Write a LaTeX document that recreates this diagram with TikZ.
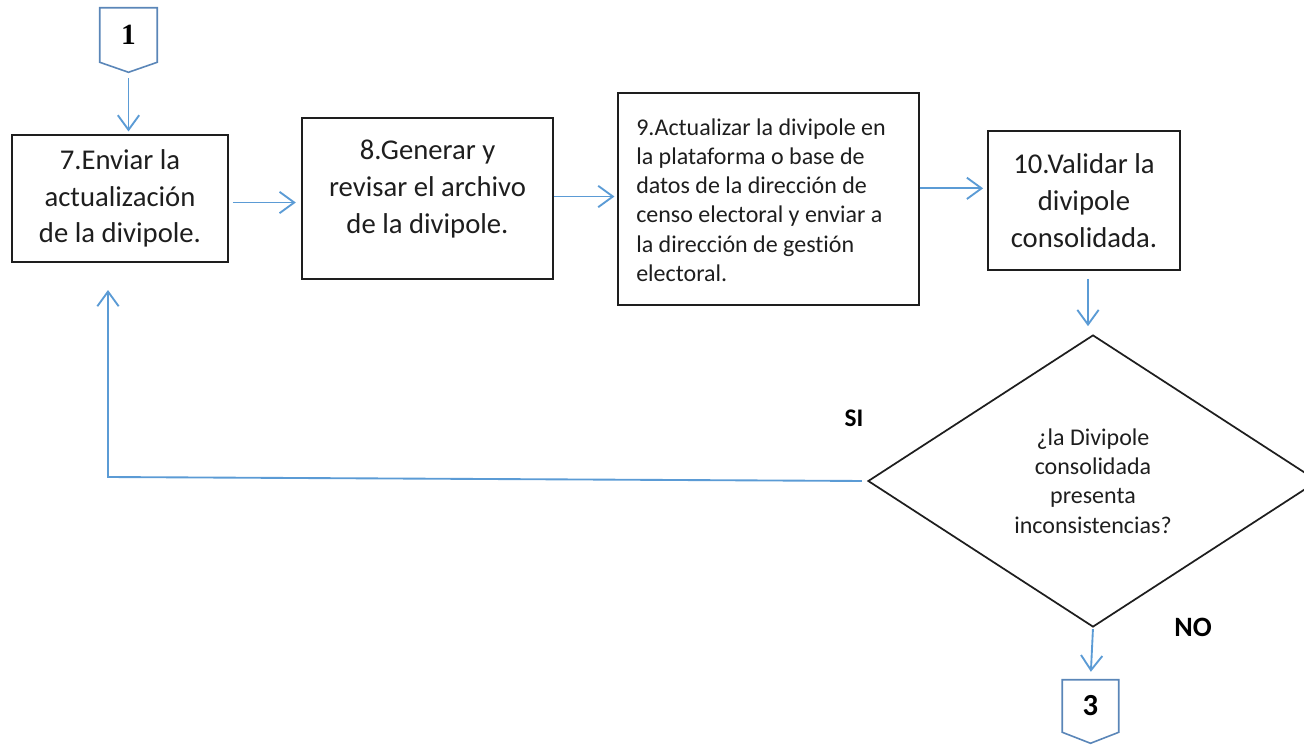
\documentclass[tikz,border=0pt]{standalone}
\usepackage{fontspec}
\setmainfont{Carlito}[Ligatures=NoCommon, RawFeature={-liga;-clig;-dlig}]
\newfontfamily\serifb{Liberation Serif}
\usetikzlibrary{arrows.meta,shapes.geometric,calc}
\definecolor{flowblue}{HTML}{5B9BD5}
\definecolor{connblue}{HTML}{5A86B8}
\definecolor{ink}{HTML}{1E1E1E}
\begin{document}
\begin{tikzpicture}[x=0.75pt,y=-0.75pt,
  box/.style={draw=ink, line width=1.3pt, inner sep=0pt, text=ink},
  flow/.style={draw=flowblue, line width=1.4pt, -{Straight Barb[length=11pt,width=16pt,line width=1.4pt]}},
  conn/.style={draw=connblue, line width=1.2pt},
  big/.style={font=\fontsize{21.5}{27.5}\selectfont, align=center, text=ink},
  mid/.style={font=\fontsize{18}{21.9}\selectfont, text=ink},
  lbl/.style={font=\bfseries\fontsize{19}{22}\selectfont, text=black}
]
\useasboundingbox (0,0) rectangle (1304,744);

% off-page connector 1
\node[inner sep=0pt, minimum width=42.75pt, minimum height=40.5pt,
      font=\serifb\bfseries\fontsize{22}{24}\selectfont] (c1) at (128.5,35) {1};
\coordinate (c1tip) at ($(c1.south)+(0,10)$);
\draw[conn] (c1.south west) -- (c1.north west) -- (c1.north east) -- (c1.south east) -- (c1tip) -- cycle;

% process boxes
\node[box, big, minimum width=162pt, minimum height=95.25pt] (b7) at (120,198.5)
  {7.Enviar la\\actualización\\de la divipole.};
\node[box, minimum width=188.25pt, minimum height=120.75pt] (b8) at (427.5,198.5) {};
\node[big] (t8) at (427.5,189) {8.Generar y\\revisar el archivo\\de la divipole.};
\node[box, minimum width=225.75pt, minimum height=159pt] (b9) at (768.5,199) {};
\node[mid, align=left, anchor=west, inner sep=0pt] (t9) at (636,200)
  {9.Actualizar la divipole en\\la plataforma o base de\\datos de la dirección de\\censo electoral y enviar a\\la dirección de gestión\\electoral.};
\node[box, big, minimum width=144pt, minimum height=104.25pt] (b10) at (1084,200.5)
  {10.Validar la\\divipole\\consolidada.};

% decision
\node[diamond, draw=ink, line width=1.3pt, inner sep=0pt,
      minimum width=337.5pt, minimum height=219pt, mid, align=center] (dia) at (1093,481)
  {¿la Divipole\\consolidada\\presenta\\inconsistencias?};

% off-page connector 3
\node[inner sep=0pt, minimum width=42pt, minimum height=39pt,
      font=\bfseries\fontsize{23}{25}\selectfont] (c3) at (1090.5,706) {3};
\coordinate (c3tip) at ($(c3.south)+(0,11)$);
\draw[conn] (c3.south west) -- (c3.north west) -- (c3.north east) -- (c3.south east) -- (c3tip) -- cycle;

% labels
\node[lbl] (si) at (854,418) {SI};
\node[lbl, font=\bfseries\fontsize{21}{24}\selectfont] (no) at (1193,627) {NO};

% connectors
\draw[flow, shorten <=4.5pt, shorten >=2pt] (c1tip) -- (c1tip |- b7.north);
\draw[flow, shorten <=3pt, shorten >=4pt] ([yshift=-3]b7.east) -- ([yshift=-3]b7.east -| b8.west);
\draw[flow, shorten >=2pt] ([yshift=1.5]b8.east) -- ([yshift=1.5]b8.east -| b9.west);
\draw[flow, shorten >=3pt] ([yshift=8]b9.east) -- ([yshift=8]b9.east -| b10.west);
\coordinate (b10out) at ($(b10.south)+(4,0)$);
\draw[flow, shorten <=6pt, shorten >=6pt] (b10out) -- (b10out |- dia.north);
\coordinate (fbcorner) at (108,477);
\coordinate (fbtop) at (108,290);
\draw[flow, shorten <=4pt] (dia.west) -- (fbcorner) -- (fbtop);
\draw[flow, shorten <=1pt, shorten >=6pt] (dia.south) -- (c3.north);
\end{tikzpicture}
\end{document}
